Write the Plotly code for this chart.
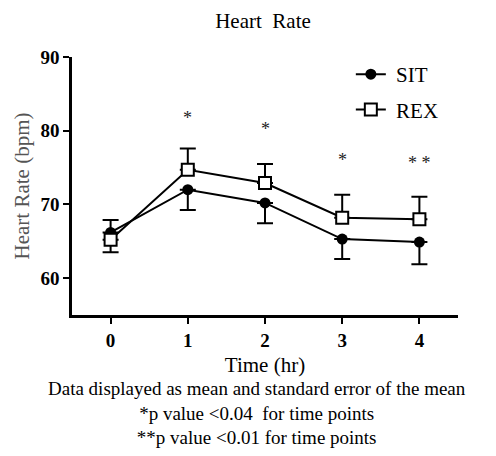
import plotly.graph_objects as go

time_hr = [0, 1, 2, 3, 4]
sit_mean = [66.2, 72.0, 70.2, 65.3, 64.9]
sit_sem = [2.7, 2.75, 2.75, 2.7, 3.0]
rex_mean = [65.2, 74.7, 72.9, 68.2, 68.0]
rex_sem = [2.7, 2.9, 2.6, 3.1, 3.05]
sig_labels = ["", "*", "*", "*", "* *"]
sig_y = [None, 81.7, 80.2, 76.0, 75.6]
y_ticks = [60, 70, 80, 90]
notes = ["Data displayed as mean and standard error of the mean",
         "*p value <0.04  for time points",
         "**p value <0.01 for time points"]

serif = "Liberation Serif"

W, H = 496, 456
L, R, T, B = 61, 46, 49, 149
PW, PH = W - L - R, H - T - B


def px_to_paper_y(ypx):
    return (H - B - ypx) / PH


def px_to_paper_x(xpx):
    return (xpx - L) / PW


fig = go.Figure()
fig.add_trace(go.Scatter(
    x=time_hr, y=sit_mean, name="\u00a0SIT", legendgroup="a",
    mode="lines+markers",
    line=dict(color="black", width=2),
    marker=dict(symbol="circle", size=11, color="black"),
    error_y=dict(type="data", symmetric=False, array=[0] * 5, arrayminus=sit_sem,
                 color="black", thickness=2, width=8),
))
fig.add_trace(go.Scatter(
    x=time_hr, y=rex_mean, name="\u00a0REX", legendgroup="b",
    mode="lines+markers",
    line=dict(color="black", width=2),
    marker=dict(symbol="square", size=12, color="white", line=dict(color="black", width=2)),
    error_y=dict(type="data", symmetric=False, array=rex_sem, arrayminus=[0] * 5,
                 color="black", thickness=2, width=8),
))

for x, lab, yy in zip(time_hr, sig_labels, sig_y):
    if lab:
        fig.add_annotation(x=x, y=yy, text=lab, showarrow=False,
                           font=dict(family=serif, size=18, color="#222"))

fig.update_layout(
    width=W, height=H,
    margin=dict(l=L, r=R, t=T, b=B),
    paper_bgcolor="white", plot_bgcolor="white",
    title=dict(text="Heart  Rate", x=255 / W, xref="container",
               xanchor="center", y=1 - 5 / H, yanchor="top",
               font=dict(family=serif, size=21, color="black")),
    font=dict(family=serif, color="black"),
    showlegend=True,
    legend=dict(x=px_to_paper_x(342), y=px_to_paper_y(46), xanchor="left", yanchor="top",
                font=dict(family=serif, size=21, color="black"),
                bgcolor="rgba(0,0,0,0)", tracegroupgap=5, itemwidth=30),
    xaxis=dict(range=[-0.5, 4.5], tickvals=time_hr, ticktext=[str(t) for t in time_hr],
               showgrid=False, zeroline=False, showline=True, linecolor="black", linewidth=2.5,
               ticks="outside", tickwidth=2, ticklen=6, tickcolor="black",
               tickfont=dict(family=serif, size=19, color="black", weight="bold"),
               title=dict(text="Time (hr)", font=dict(family=serif, size=21, color="black"), standoff=8)),
    yaxis=dict(range=[55, 90], tickvals=y_ticks,
               showgrid=False, zeroline=False, showline=True, linecolor="black", linewidth=2.5,
               ticks="outside", tickwidth=2, ticklen=6, tickcolor="black",
               tickfont=dict(family=serif, size=19, color="black", weight="bold"),
               title=dict(text="Heart Rate (bpm)", font=dict(family=serif, size=21, color="#555"), standoff=6)),
)

fig.add_annotation(x=px_to_paper_x(247), xref="paper", y=px_to_paper_y(405),
                   yref="paper", text="<br>".join(notes), showarrow=False,
                   xanchor="center", yanchor="middle", align="center",
                   font=dict(family=serif, size=19, color="black"))

fig.write_html("out.html")
